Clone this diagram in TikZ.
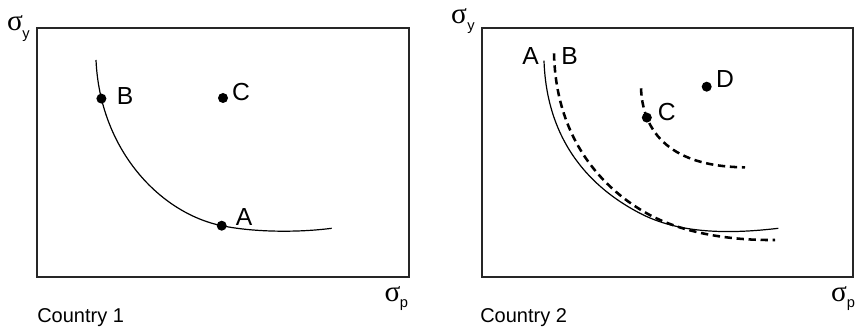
\documentclass[tikz,border=0pt]{standalone}
\usepackage{fontspec}
\setmainfont{Liberation Sans}
\newfontfamily\greekserif{Liberation Serif}
\begin{document}
\begin{tikzpicture}[x=0.75pt,y=-0.75pt,
  panel/.style={draw=black!85, line width=2pt},
  dotnode/.style={circle, fill=black, inner sep=0pt, minimum size=7.5pt},
  lbl/.style={inner sep=0pt, font=\fontsize{18.5}{18.5}\selectfont},
  sig/.style={inner sep=0pt, font=\greekserif\fontsize{22}{22}\selectfont},
  subs/.style={inner sep=0pt, font=\fontsize{11}{11}\selectfont},
  captext/.style={inner sep=0pt, font=\fontsize{15}{15}\selectfont},
  solidcurve/.style={line width=0.9pt},
  dashcurve/.style={line width=1.9pt, dash pattern=on 5.5pt off 3.5pt}]
\useasboundingbox (0,0) rectangle (857,327);
% panels
\draw[panel] (37,28) rectangle (409,277);
\draw[panel] (482,28) rectangle (853,277);
% axis labels
\node[sig] (sy1) at (15,23) {σ};
\node[subs] (sy1s) at (26,36) {y};
\node[sig] (sp1) at (392.5,294) {σ};
\node[subs] (sp1s) at (404,305.5) {p};
\node[sig] (sy2) at (459,16) {σ};
\node[subs] (sy2s) at (471,28) {y};
\node[sig] (sp2) at (839,294) {σ};
\node[subs] (sp2s) at (851,305.5) {p};
% captions
\node[captext, anchor=base west] (c1) at (37,323) {Country 1};
\node[captext, anchor=base west] (c2) at (480,323) {Country 2};
% left panel
\coordinate (lA) at (221.7,225.7);
\draw[solidcurve] (96,60) .. controls (100,150) and (160,213) .. (lA)
  node[pos=0.15, dotnode] (dB1) {}
  .. controls (251.7,231.9) and (295,233) .. (331.7,228.3);
\node[dotnode] (dA1) at (lA) {};
\node[dotnode] (dC1) at (223,98) {};
\node[lbl] (tB1) at (125,96) {B};
\node[lbl] (tC1) at (241,92) {C};
\node[lbl] (tA1) at (244,217) {A};
% right panel
\coordinate (rM) at (640,213.3);
\draw[solidcurve] (544,60.7) .. controls (547,150) and (600,192.5) .. (rM)
  .. controls (680,234.1) and (730,234) .. (778.3,228.3);
\coordinate (rN) at (646.7,213.3);
\draw[dashcurve] (554,53.3) .. controls (556,145) and (608.7,192) .. (rN)
  .. controls (684.7,234.6) and (735,240.5) .. (775,240);
\draw[dashcurve] (641,88.3) .. controls (643,140) and (680,167) .. (745,167.3)
  node[pos=0.21, dotnode] (dC2) {};
\node[dotnode] (dD2) at (706.7,86.7) {};
\node[lbl] (tA2) at (530.5,56.5) {A};
\node[lbl] (tB2) at (569.5,56.5) {B};
\node[lbl] (tC2) at (666.7,112.5) {C};
\node[lbl] (tD2) at (725,79) {D};
\end{tikzpicture}
\end{document}
